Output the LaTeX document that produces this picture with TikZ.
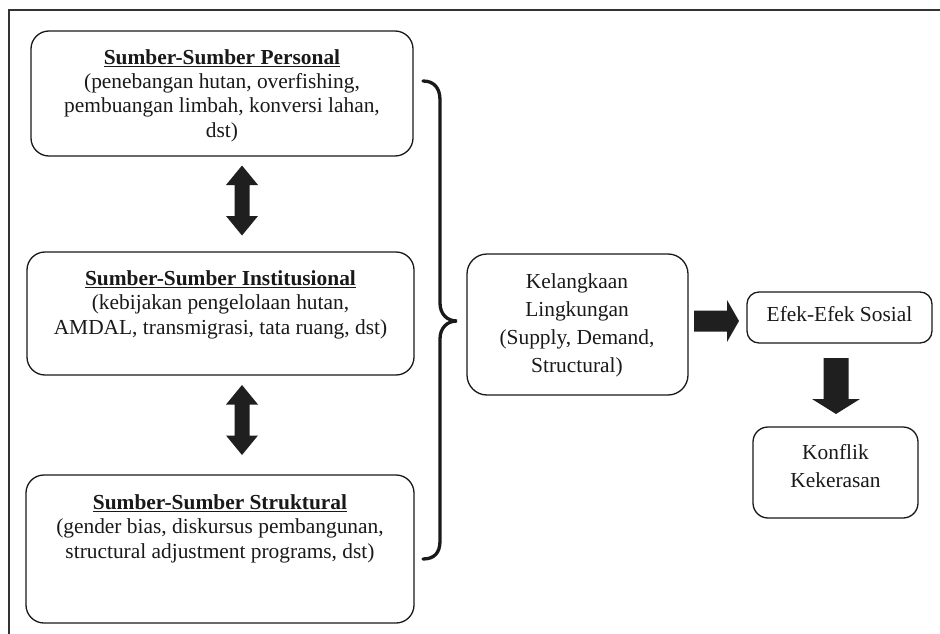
\documentclass[tikz,border=0pt]{standalone}
\usepackage{fontspec}
\setmainfont{Liberation Serif}
\usetikzlibrary{calc}
\tikzset{
  box/.style={draw=black!90, line width=1.3pt, rounded corners=18pt, inner sep=0pt, outer sep=0pt},
  txt/.style={anchor=base, align=center, inner sep=0pt, text=black!90, font=\fontsize{21.4}{24.3}\selectfont},
  txtwide/.style={txt, font=\fontsize{21.4}{28}\selectfont},
  blockfill/.style={fill=black!88},
  vdouble/.pic={\fill[blockfill] (0,-35) -- (16,-15.5) -- (7.5,-15.5) -- (7.5,15.5) -- (16,15.5) -- (0,35) -- (-16,15.5) -- (-7.5,15.5) -- (-7.5,-15.5) -- (-16,-15.5) -- cycle;},
  rightblock/.pic={\fill[blockfill] (-22.5,-10.5) -- (10.5,-10.5) -- (10.5,-21) -- (22.5,0) -- (10.5,21) -- (10.5,10.5) -- (-22.5,10.5) -- cycle;},
  downblock/.pic={\fill[blockfill] (-12.5,-28) -- (12.5,-28) -- (12.5,13) -- (24,13) -- (0,28) -- (-24,13) -- (-12.5,13) -- cycle;},
}
\begin{document}
\begin{tikzpicture}[x=1pt,y=-1pt]
\useasboundingbox (0,0) rectangle (940,634);
% frame
\draw[line width=1.2pt, black!80] (940,10) -- (9,10) -- (9,634);
% boxes
\node[box, minimum width=382pt, minimum height=125pt] (p) at (222,93.5) {};
\node[box, minimum width=387pt, minimum height=123pt] (i) at (220.5,313.5) {};
\node[box, minimum width=388pt, minimum height=148pt] (s) at (220,549) {};
\node[box, rounded corners=20pt, minimum width=221pt, minimum height=141pt] (k) at (577.5,324.5) {};
\node[box, rounded corners=12pt, minimum width=185pt, minimum height=51pt] (e) at (839.5,317.5) {};
\node[box, rounded corners=15pt, minimum width=165pt, minimum height=91pt] (c) at (835.5,472.5) {};
% texts (anchor = baseline of last line)
\node[txt] (pt) at (222,137) {\textbf{\underline{Sumber-Sumber Personal}}\\(penebangan hutan, overfishing,\\pembuangan limbah, konversi lahan,\\dst)};
\node[txt] (it) at (220.5,334) {\textbf{\underline{Sumber-Sumber Institusional}}\\(kebijakan pengelolaan hutan,\\AMDAL, transmigrasi, tata ruang, dst)};
\node[txt] (st) at (220,558) {\textbf{\underline{Sumber-Sumber Struktural}}\\(gender bias, diskursus pembangunan,\\structural adjustment programs, dst)};
\node[txtwide] (kt) at (577,372) {Kelangkaan\\Lingkungan\\(Supply, Demand,\\Structural)};
\node[txtwide] (et) at (839.5,321) {Efek-Efek Sosial};
\node[txtwide] (ct) at (835.5,487) {Konflik\\Kekerasan};
% block arrows
\pic at ($(p.south)!0.5!(i.north)+(20.75,-3.5)$) {vdouble};
\pic at ($(i.south)!0.5!(s.north)+(21.75,-5)$) {vdouble};
\pic at ($(k.east)!0.5!(e.west)+(-1,0)$) {rightblock};
\pic at ($(e.south)!0.5!(c.north)+(-1.5,1)$) {downblock};
% brace
\draw[line width=3.3pt, black!90, line cap=round]
  (423,81) .. controls (434,81) and (440,88) .. (440,100) -- (440,303)
  .. controls (440,314) and (447,321) .. (457,321)
  .. controls (447,321) and (440,328) .. (440,339) -- (440,541)
  .. controls (440,553) and (434,559) .. (423,559);
\end{tikzpicture}
\end{document}
